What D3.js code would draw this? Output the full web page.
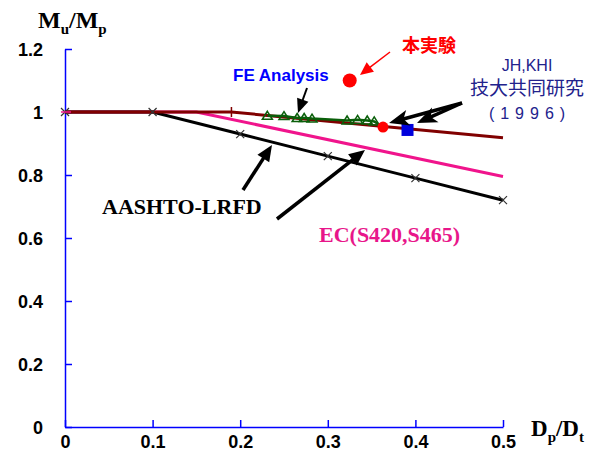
<!DOCTYPE html>
<html>
<head>
<meta charset="utf-8">
<script src="https://cdn.jsdelivr.net/npm/d3@7"></script>
<style>
  body { margin: 0; background: #fff; }
  svg { display: block; }
</style>
</head>
<body>
<svg id="chart" width="600" height="452"></svg>
<script>
// values
const xTicks = [0, 0.1, 0.2, 0.3, 0.4, 0.5];
const yTicks = [0, 0.2, 0.4, 0.6, 0.8, 1, 1.2];

const aashtoX = [0, 0.1, 0.2, 0.3, 0.4, 0.5];
const aashtoY = [1, 1, 0.93, 0.86, 0.79, 0.72];

const ecX = [0, 0.15, 0.5];
const ecY = [1, 1, 0.795];

const jhLineX = [0, 0.19, 0.5];
const jhLineY = [1, 1, 0.918];

const feX = [0.231, 0.250, 0.265, 0.273, 0.282, 0.322, 0.334, 0.345, 0.353];
const feY = [0.988, 0.987, 0.981, 0.981, 0.979, 0.973, 0.975, 0.973, 0.970];

const testX = [0.363];
const testY = [0.952];
const testLegend = [0.325, 1.10];

const jhkhiX = [0.391];
const jhkhiY = [0.943];

const svg = d3.select("#chart");

const x = d3.scaleLinear().domain([0, 0.5]).range([65, 503]);
const y = d3.scaleLinear().domain([0, 1.2]).range([427, 49]);

function pts(xs, ys) {
    return xs.map(function (v, i) { return [v, ys[i]]; });
}

const line = d3.line().x(d => x(d[0])).y(d => y(d[1]));

// axes, blue with inner ticks
let yAxis = svg.append("g")
    .attr("transform", "translate(" + x(0) + ",0)")
    .call(d3.axisLeft(y).tickValues(yTicks).tickSize(-7).tickSizeOuter(0).tickPadding(22)
        .tickFormat(d => d === 0 ? "0" : d === 1 ? "1" : d3.format(".1f")(d)));

let xAxis = svg.append("g")
    .attr("transform", "translate(0," + y(0) + ")")
    .call(d3.axisBottom(x).tickValues(xTicks).tickSize(-7).tickSizeOuter(0).tickPadding(8)
        .tickFormat(d => d === 0 ? "0" : d3.format(".1f")(d)));

[xAxis, yAxis].forEach(function (g) {
    g.select(".domain").attr("stroke", "#0000ff").attr("stroke-width", 1.5);
    g.selectAll(".tick line").attr("stroke", "#0000ff").attr("stroke-width", 1.5);
    g.selectAll(".tick text")
        .attr("fill", "#000")
        .style("font-family", "'Liberation Sans', Arial, sans-serif")
        .style("font-weight", "bold")
        .style("font-size", "18px");
});
yAxis.selectAll(".tick text").attr("dy", "0.36em");

// axis titles
let yTitle = svg.append("text")
    .attr("x", 38).attr("y", 28)
    .style("font-family", "'Liberation Serif', 'Times New Roman', serif")
    .style("font-weight", "bold")
    .style("font-size", "24px");
yTitle.append("tspan").text("M");
yTitle.append("tspan").attr("dy", 6).style("font-size", "15px").text("u");
yTitle.append("tspan").attr("dy", -6).text("/M");
yTitle.append("tspan").attr("dy", 6).style("font-size", "15px").text("p");

let xTitle = svg.append("text")
    .attr("x", 531).attr("y", 436)
    .style("font-family", "'Liberation Serif', 'Times New Roman', serif")
    .style("font-weight", "bold")
    .style("font-size", "23px");
xTitle.append("tspan").text("D");
xTitle.append("tspan").attr("dy", 6).style("font-size", "15px").text("p");
xTitle.append("tspan").attr("dy", -6).text("/D");
xTitle.append("tspan").attr("dy", 6).style("font-size", "15px").text("t");

// curves
svg.append("path").datum(pts(ecX, ecY))
    .attr("d", line).attr("fill", "none")
    .attr("stroke", "#f0148c").attr("stroke-width", 3);

svg.append("path").datum(pts(aashtoX, aashtoY))
    .attr("d", line).attr("fill", "none")
    .attr("stroke", "#000").attr("stroke-width", 3);

svg.append("path").datum(pts(jhLineX, jhLineY))
    .attr("d", line).attr("fill", "none")
    .attr("stroke", "#800000").attr("stroke-width", 3);

svg.append("path").datum(pts(feX, feY).concat(pts(testX, testY)))
    .attr("d", line).attr("fill", "none")
    .attr("stroke", "#0a5f0a").attr("stroke-width", 2.5);

// markers on the lines
svg.selectAll(".xmark")
    .data(pts(aashtoX, aashtoY))
    .join("path")
    .attr("class", "xmark")
    .attr("d", d => {
        let cx = x(d[0]), cy = y(d[1]);
        return "M" + (cx - 4) + "," + (cy - 4) + "L" + (cx + 4) + "," + (cy + 4) +
               "M" + (cx - 4) + "," + (cy + 4) + "L" + (cx + 4) + "," + (cy - 4);
    })
    .attr("stroke", "#333").attr("stroke-width", 1.2);

svg.selectAll(".jhmark")
    .data(pts(jhLineX, jhLineY).slice(1, 2))
    .join("path")
    .attr("class", "jhmark")
    .attr("d", d => "M" + x(d[0]) + "," + (y(d[1]) - 5) + "L" + x(d[0]) + "," + (y(d[1]) + 5))
    .attr("stroke", "#800000").attr("stroke-width", 1.5);

svg.selectAll(".ecmark")
    .data(pts(ecX, ecY).slice(0, 1))
    .join("path")
    .attr("class", "ecmark")
    .attr("d", d => "M" + (x(d[0]) - 4) + "," + y(d[1]) + "L" + (x(d[0]) + 6) + "," + y(d[1]))
    .attr("stroke", "#f0148c").attr("stroke-width", 1.5);

svg.selectAll(".fe")
    .data(pts(feX, feY))
    .join("path")
    .attr("class", "fe")
    .attr("transform", d => "translate(" + x(d[0]) + "," + y(d[1]) + ")")
    .attr("d", "M0,-4.5L5,3.5L-5,3.5Z")
    .attr("fill", "none")
    .attr("stroke", "#0a5f0a").attr("stroke-width", 1.5);

svg.selectAll(".test")
    .data(pts(testX, testY))
    .join("circle")
    .attr("class", "test")
    .attr("cx", d => x(d[0])).attr("cy", d => y(d[1]))
    .attr("r", 5.5).attr("fill", "#ff0000");

svg.append("circle")
    .attr("cx", x(testLegend[0])).attr("cy", y(testLegend[1]))
    .attr("r", 7).attr("fill", "#ff0000");

svg.selectAll(".jhkhi")
    .data(pts(jhkhiX, jhkhiY))
    .join("rect")
    .attr("class", "jhkhi")
    .attr("x", d => x(d[0]) - 6).attr("y", d => y(d[1]) - 6)
    .attr("width", 12).attr("height", 12)
    .attr("fill", "#0000dd");

// arrows: shaft up to the head base, then a filled head
function arrow(x1, y1, x2, y2, opt) {
    let len = Math.hypot(x2 - x1, y2 - y1);
    let ux = (x2 - x1) / len, uy = (y2 - y1) / len;
    let bx = x2 - ux * opt.head, by = y2 - uy * opt.head;
    let nx = -uy * opt.half, ny = ux * opt.half;
    let notch = opt.notch || 0;
    svg.append("line")
        .attr("x1", x1).attr("y1", y1)
        .attr("x2", bx + ux * (notch + 1)).attr("y2", by + uy * (notch + 1))
        .attr("stroke", opt.color).attr("stroke-width", opt.width);
    svg.append("path")
        .attr("d", "M" + x2 + "," + y2 +
                   "L" + (bx + nx) + "," + (by + ny) +
                   "L" + (bx + ux * notch) + "," + (by + uy * notch) +
                   "L" + (bx - nx) + "," + (by - ny) + "Z")
        .attr("fill", opt.color);
}

arrow(390, 52, 360, 75, { color: "#ff0000", width: 1.5, head: 13, half: 6 });
arrow(307, 88, 298, 113, { color: "#000", width: 2, head: 14, half: 6 });
arrow(462, 103, 389, 123, { color: "#000", width: 3.5, head: 20, half: 8, notch: 5 });
arrow(462, 103, 417, 123, { color: "#000", width: 3.5, head: 20, half: 8, notch: 5 });
arrow(243, 190, 272, 145, { color: "#000", width: 3.5, head: 16, half: 7 });
arrow(277, 219, 365, 150, { color: "#000", width: 3.5, head: 16, half: 7 });

// annotation labels
svg.append("text")
    .attr("x", 402).attr("y", 52)
    .attr("fill", "#ff0000")
    .style("font-family", "'Noto Sans CJK JP', sans-serif")
    .style("font-weight", "bold")
    .style("font-size", "18px")
    .text("本実験");

svg.append("text")
    .attr("x", 233).attr("y", 81)
    .attr("fill", "#0000ff")
    .style("font-family", "'Liberation Sans', Arial, sans-serif")
    .style("font-weight", "bold")
    .style("font-size", "17px")
    .text("FE Analysis");

let jhText = svg.append("g")
    .attr("fill", "#22228c")
    .attr("text-anchor", "middle");
jhText.append("text")
    .attr("x", 527).attr("y", 71)
    .style("font-family", "'Liberation Sans', Arial, sans-serif")
    .style("font-size", "16px")
    .text("JH,KHI");
jhText.append("text")
    .attr("x", 527).attr("y", 95)
    .style("font-family", "'Noto Sans CJK JP', sans-serif")
    .style("font-size", "19px")
    .text("技大共同研究");
jhText.append("text")
    .attr("x", 530).attr("y", 119)
    .style("font-family", "'Liberation Sans', Arial, sans-serif")
    .style("font-size", "16px")
    .style("letter-spacing", "6px")
    .text("(1996)");

svg.append("text")
    .attr("x", 102).attr("y", 214)
    .attr("fill", "#000")
    .style("font-family", "'Liberation Serif', 'Times New Roman', serif")
    .style("font-weight", "bold")
    .style("font-size", "22px")
    .text("AASHTO-LRFD");

svg.append("text")
    .attr("x", 319).attr("y", 242)
    .attr("fill", "#e8168a")
    .style("font-family", "'Liberation Serif', 'Times New Roman', serif")
    .style("font-weight", "bold")
    .style("font-size", "22px")
    .text("EC(S420,S465)");
</script>
</body>
</html>
